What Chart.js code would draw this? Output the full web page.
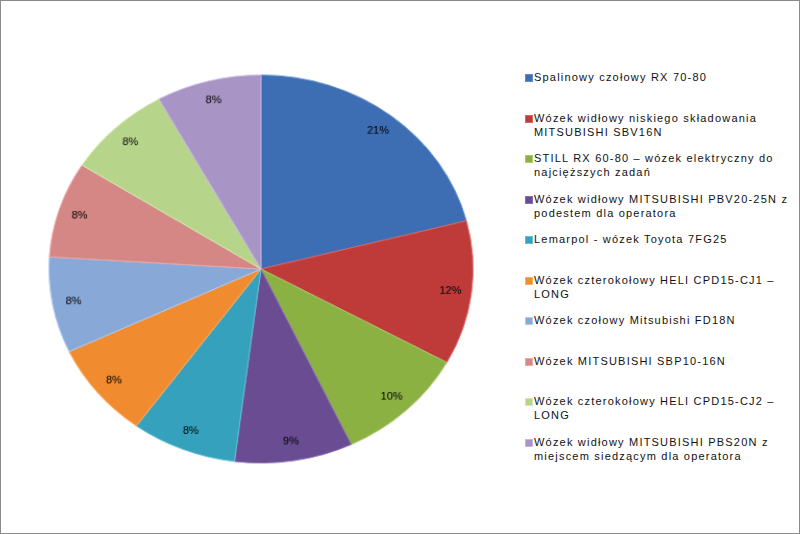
<!DOCTYPE html>
<html>
<head>
<meta charset="utf-8">
<script src="https://cdn.jsdelivr.net/npm/chart.js@4/dist/chart.umd.min.js"></script>
<style>
  html, body { margin: 0; padding: 0; background: #fff; }
  #frame { position: relative; width: 800px; height: 534px; box-sizing: border-box;
           border: 1px solid #8a8a8a; overflow: hidden; background: #fff; }
  #pieWrap { position: absolute; left: 56px; top: 64px; width: 408px; height: 408px;
             transform: scale(1.042, 0.953); transform-origin: 50% 50%; }
  #legend { position: absolute; left: 523px; top: 69px; width: 275px;
            font-family: 'Liberation Sans', Arial, sans-serif; font-size: 11px;
            letter-spacing: 1.2px; color: #111; }
  .item { position: absolute; left: 0; height: 40px; }
  .sw { position: absolute; left: 1px; top: 4px; width: 6px; height: 6px; border: 1px solid; }
  .txt { position: absolute; left: 10px; top: 0; line-height: 14px; white-space: nowrap; }
</style>
</head>
<body>
<div id="frame">
  <div id="pieWrap"><canvas id="c"></canvas></div>
  <div id="legend"></div>
</div>
<script>
const categories = [
  ["Spalinowy czołowy RX 70-80"],
  ["Wózek widłowy niskiego składowania", "MITSUBISHI SBV16N"],
  ["STILL RX 60-80 – wózek elektryczny do", "najcięższych zadań"],
  ["Wózek widłowy MITSUBISHI PBV20-25N z", "podestem dla operatora"],
  ["Lemarpol - wózek Toyota 7FG25"],
  ["Wózek czterokołowy  HELI CPD15-CJ1 –", "LONG"],
  ["Wózek czołowy Mitsubishi FD18N"],
  ["Wózek MITSUBISHI SBP10-16N"],
  ["Wózek czterokołowy  HELI CPD15-CJ2 –", "LONG"],
  ["Wózek widłowy MITSUBISHI PBS20N z", "miejscem siedzącym dla operatora"]
];
const values = [21, 12, 10, 9, 8, 8, 8, 8, 8, 8];
const colors = ["#3D6DB3", "#BF3B3A", "#8CB143", "#694C92", "#36A1BC",
                "#F18B2F", "#88A8D8", "#D48785", "#B7D48B", "#A894C5"];
const borders = ["#5E8DD0", "#DB6664", "#A9CC67", "#8A6EB3", "#5FC0D8",
                 "#FFAE5E", "#B3CCF0", "#EDA9A8", "#D3EBB0", "#C7B6E0"];
const SX = 1.042, SY = 0.953;

const pctLabels = {
  id: 'pctLabels',
  afterDatasetsDraw(chart) {
    const ctx = chart.ctx;
    const meta = chart.getDatasetMeta(0);
    const data = chart.data.datasets[0].data;
    const total = data.reduce((a, b) => a + b, 0);
    ctx.save();
    ctx.font = "11px 'Liberation Sans', Arial, sans-serif";
    ctx.fillStyle = "#000";
    ctx.textAlign = "center";
    ctx.textBaseline = "middle";
    meta.data.forEach((arc, i) => {
      const p = arc.getProps(['x', 'y', 'startAngle', 'endAngle', 'outerRadius']);
      const a = (p.startAngle + p.endAngle) / 2;
      const r = p.outerRadius * 0.9;
      const txt = Math.round(data[i] / total * 100) + "%";
      ctx.save();
      ctx.translate(p.x + Math.cos(a) * r, p.y + Math.sin(a) * r);
      ctx.scale(1 / SX, 1 / SY);
      ctx.fillText(txt, 0, 0);
      ctx.restore();
    });
    ctx.restore();
  }
};

new Chart(document.getElementById('c'), {
  type: 'pie',
  data: {
    labels: categories,
    datasets: [{
      data: values,
      backgroundColor: colors,
      borderColor: borders,
      borderWidth: 1
    }]
  },
  options: {
    responsive: true,
    maintainAspectRatio: false,
    animation: false,
    layout: { padding: 0 },
    plugins: { legend: { display: false }, tooltip: { enabled: false } }
  },
  plugins: [pctLabels]
});

const lg = document.getElementById('legend');
categories.forEach((lines, i) => {
  const it = document.createElement('div');
  it.className = 'item';
  it.style.top = (i * 40.5) + 'px';
  const sw = document.createElement('div');
  sw.className = 'sw';
  sw.style.background = colors[i];
  sw.style.borderColor = borders[i];
  const tx = document.createElement('div');
  tx.className = 'txt';
  tx.innerHTML = lines.map(s => s.replace(/&/g, '&amp;').replace(/</g, '&lt;')).join('<br>');
  it.appendChild(sw);
  it.appendChild(tx);
  lg.appendChild(it);
});
</script>
</body>
</html>
